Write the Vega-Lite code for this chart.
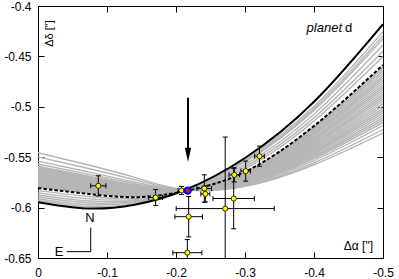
{
  "width": 345,
  "height": 252,
  "autosize": {"type": "none"},
  "padding": {"left": 38, "top": 6, "right": 16, "bottom": 21},
  "config": {
    "view": {"stroke": "#000000", "strokeWidth": 1},
    "font": "Liberation Sans",
    "axis": {"domain": false, "grid": false, "tickColor": "#000000", "tickSize": -6, "tickWidth": 1, "labelColor": "#000000", "labelFont": "Liberation Sans", "labelFontSize": 12, "labelFlush": false, "labelOverlap": false}
  },
  "datasets": {
    "gray": [
      {"c":"s0","x":0,"y":-0.5455},{"c":"s0","x":-0.07,"y":-0.5572},{"c":"s0","x":-0.14,"y":-0.5700},{"c":"s0","x":-0.212,"y":-0.5822},{"c":"s0","x":-0.3,"y":-0.5790},{"c":"s0","x":-0.4,"y":-0.5575},{"c":"s0","x":-0.5,"y":-0.5260},
      {"c":"s1","x":0,"y":-0.5497},{"c":"s1","x":-0.07,"y":-0.5607},{"c":"s1","x":-0.14,"y":-0.5724},{"c":"s1","x":-0.212,"y":-0.5823},{"c":"s1","x":-0.3,"y":-0.5783},{"c":"s1","x":-0.4,"y":-0.5556},{"c":"s1","x":-0.5,"y":-0.5226},
      {"c":"s2","x":0,"y":-0.5539},{"c":"s2","x":-0.07,"y":-0.5642},{"c":"s2","x":-0.14,"y":-0.5747},{"c":"s2","x":-0.212,"y":-0.5825},{"c":"s2","x":-0.3,"y":-0.5774},{"c":"s2","x":-0.4,"y":-0.5533},{"c":"s2","x":-0.5,"y":-0.5186},
      {"c":"s3","x":0,"y":-0.5568},{"c":"s3","x":-0.07,"y":-0.5665},{"c":"s3","x":-0.14,"y":-0.5763},{"c":"s3","x":-0.212,"y":-0.5826},{"c":"s3","x":-0.3,"y":-0.5768},{"c":"s3","x":-0.4,"y":-0.5515},{"c":"s3","x":-0.5,"y":-0.5155},
      {"c":"d0","x":0,"y":-0.5590},{"c":"d0","x":-0.07,"y":-0.5683},{"c":"d0","x":-0.14,"y":-0.5776},{"c":"d0","x":-0.212,"y":-0.5830},{"c":"d0","x":-0.3,"y":-0.5762},{"c":"d0","x":-0.4,"y":-0.5501},{"c":"d0","x":-0.5,"y":-0.5130},
      {"c":"d1","x":0,"y":-0.5599},{"c":"d1","x":-0.07,"y":-0.5691},{"c":"d1","x":-0.14,"y":-0.5781},{"c":"d1","x":-0.212,"y":-0.5830},{"c":"d1","x":-0.3,"y":-0.5757},{"c":"d1","x":-0.4,"y":-0.5488},{"c":"d1","x":-0.5,"y":-0.5107},
      {"c":"d2","x":0,"y":-0.5608},{"c":"d2","x":-0.07,"y":-0.5698},{"c":"d2","x":-0.14,"y":-0.5786},{"c":"d2","x":-0.212,"y":-0.5830},{"c":"d2","x":-0.3,"y":-0.5752},{"c":"d2","x":-0.4,"y":-0.5474},{"c":"d2","x":-0.5,"y":-0.5084},
      {"c":"d3","x":0,"y":-0.5617},{"c":"d3","x":-0.07,"y":-0.5705},{"c":"d3","x":-0.14,"y":-0.5791},{"c":"d3","x":-0.212,"y":-0.5830},{"c":"d3","x":-0.3,"y":-0.5747},{"c":"d3","x":-0.4,"y":-0.5461},{"c":"d3","x":-0.5,"y":-0.5061},
      {"c":"d4","x":0,"y":-0.5626},{"c":"d4","x":-0.07,"y":-0.5713},{"c":"d4","x":-0.14,"y":-0.5796},{"c":"d4","x":-0.212,"y":-0.5830},{"c":"d4","x":-0.3,"y":-0.5742},{"c":"d4","x":-0.4,"y":-0.5448},{"c":"d4","x":-0.5,"y":-0.5038},
      {"c":"d5","x":0,"y":-0.5635},{"c":"d5","x":-0.07,"y":-0.5720},{"c":"d5","x":-0.14,"y":-0.5800},{"c":"d5","x":-0.212,"y":-0.5830},{"c":"d5","x":-0.3,"y":-0.5737},{"c":"d5","x":-0.4,"y":-0.5435},{"c":"d5","x":-0.5,"y":-0.5015},
      {"c":"d6","x":0,"y":-0.5643},{"c":"d6","x":-0.07,"y":-0.5727},{"c":"d6","x":-0.14,"y":-0.5805},{"c":"d6","x":-0.212,"y":-0.5830},{"c":"d6","x":-0.3,"y":-0.5732},{"c":"d6","x":-0.4,"y":-0.5422},{"c":"d6","x":-0.5,"y":-0.4992},
      {"c":"d7","x":0,"y":-0.5652},{"c":"d7","x":-0.07,"y":-0.5735},{"c":"d7","x":-0.14,"y":-0.5810},{"c":"d7","x":-0.212,"y":-0.5830},{"c":"d7","x":-0.3,"y":-0.5727},{"c":"d7","x":-0.4,"y":-0.5409},{"c":"d7","x":-0.5,"y":-0.4968},
      {"c":"d8","x":0,"y":-0.5661},{"c":"d8","x":-0.07,"y":-0.5742},{"c":"d8","x":-0.14,"y":-0.5815},{"c":"d8","x":-0.212,"y":-0.5830},{"c":"d8","x":-0.3,"y":-0.5722},{"c":"d8","x":-0.4,"y":-0.5396},{"c":"d8","x":-0.5,"y":-0.4945},
      {"c":"d9","x":0,"y":-0.5670},{"c":"d9","x":-0.07,"y":-0.5749},{"c":"d9","x":-0.14,"y":-0.5820},{"c":"d9","x":-0.212,"y":-0.5830},{"c":"d9","x":-0.3,"y":-0.5717},{"c":"d9","x":-0.4,"y":-0.5382},{"c":"d9","x":-0.5,"y":-0.4922},
      {"c":"d10","x":0,"y":-0.5679},{"c":"d10","x":-0.07,"y":-0.5757},{"c":"d10","x":-0.14,"y":-0.5825},{"c":"d10","x":-0.212,"y":-0.5830},{"c":"d10","x":-0.3,"y":-0.5713},{"c":"d10","x":-0.4,"y":-0.5369},{"c":"d10","x":-0.5,"y":-0.4899},
      {"c":"d11","x":0,"y":-0.5688},{"c":"d11","x":-0.07,"y":-0.5764},{"c":"d11","x":-0.14,"y":-0.5830},{"c":"d11","x":-0.212,"y":-0.5830},{"c":"d11","x":-0.3,"y":-0.5708},{"c":"d11","x":-0.4,"y":-0.5356},{"c":"d11","x":-0.5,"y":-0.4876},
      {"c":"d12","x":0,"y":-0.5697},{"c":"d12","x":-0.07,"y":-0.5771},{"c":"d12","x":-0.14,"y":-0.5835},{"c":"d12","x":-0.212,"y":-0.5830},{"c":"d12","x":-0.3,"y":-0.5703},{"c":"d12","x":-0.4,"y":-0.5343},{"c":"d12","x":-0.5,"y":-0.4853},
      {"c":"d13","x":0,"y":-0.5706},{"c":"d13","x":-0.07,"y":-0.5779},{"c":"d13","x":-0.14,"y":-0.5840},{"c":"d13","x":-0.212,"y":-0.5830},{"c":"d13","x":-0.3,"y":-0.5698},{"c":"d13","x":-0.4,"y":-0.5330},{"c":"d13","x":-0.5,"y":-0.4830},
      {"c":"d14","x":0,"y":-0.5715},{"c":"d14","x":-0.07,"y":-0.5786},{"c":"d14","x":-0.14,"y":-0.5845},{"c":"d14","x":-0.212,"y":-0.5830},{"c":"d14","x":-0.3,"y":-0.5693},{"c":"d14","x":-0.4,"y":-0.5317},{"c":"d14","x":-0.5,"y":-0.4807},
      {"c":"d15","x":0,"y":-0.5724},{"c":"d15","x":-0.07,"y":-0.5793},{"c":"d15","x":-0.14,"y":-0.5850},{"c":"d15","x":-0.212,"y":-0.5830},{"c":"d15","x":-0.3,"y":-0.5688},{"c":"d15","x":-0.4,"y":-0.5304},{"c":"d15","x":-0.5,"y":-0.4784},
      {"c":"d16","x":0,"y":-0.5733},{"c":"d16","x":-0.07,"y":-0.5801},{"c":"d16","x":-0.14,"y":-0.5855},{"c":"d16","x":-0.212,"y":-0.5830},{"c":"d16","x":-0.3,"y":-0.5683},{"c":"d16","x":-0.4,"y":-0.5290},{"c":"d16","x":-0.5,"y":-0.4761},
      {"c":"d17","x":0,"y":-0.5742},{"c":"d17","x":-0.07,"y":-0.5808},{"c":"d17","x":-0.14,"y":-0.5860},{"c":"d17","x":-0.212,"y":-0.5830},{"c":"d17","x":-0.3,"y":-0.5678},{"c":"d17","x":-0.4,"y":-0.5277},{"c":"d17","x":-0.5,"y":-0.4738},
      {"c":"d18","x":0,"y":-0.5750},{"c":"d18","x":-0.07,"y":-0.5815},{"c":"d18","x":-0.14,"y":-0.5865},{"c":"d18","x":-0.212,"y":-0.5830},{"c":"d18","x":-0.3,"y":-0.5673},{"c":"d18","x":-0.4,"y":-0.5264},{"c":"d18","x":-0.5,"y":-0.4715},
      {"c":"d19","x":0,"y":-0.5759},{"c":"d19","x":-0.07,"y":-0.5823},{"c":"d19","x":-0.14,"y":-0.5870},{"c":"d19","x":-0.212,"y":-0.5830},{"c":"d19","x":-0.3,"y":-0.5668},{"c":"d19","x":-0.4,"y":-0.5251},{"c":"d19","x":-0.5,"y":-0.4692},
      {"c":"d20","x":0,"y":-0.5768},{"c":"d20","x":-0.07,"y":-0.5830},{"c":"d20","x":-0.14,"y":-0.5875},{"c":"d20","x":-0.212,"y":-0.5830},{"c":"d20","x":-0.3,"y":-0.5663},{"c":"d20","x":-0.4,"y":-0.5238},{"c":"d20","x":-0.5,"y":-0.4669},
      {"c":"d21","x":0,"y":-0.5777},{"c":"d21","x":-0.07,"y":-0.5837},{"c":"d21","x":-0.14,"y":-0.5880},{"c":"d21","x":-0.212,"y":-0.5830},{"c":"d21","x":-0.3,"y":-0.5658},{"c":"d21","x":-0.4,"y":-0.5225},{"c":"d21","x":-0.5,"y":-0.4646},
      {"c":"d22","x":0,"y":-0.5786},{"c":"d22","x":-0.07,"y":-0.5845},{"c":"d22","x":-0.14,"y":-0.5885},{"c":"d22","x":-0.212,"y":-0.5830},{"c":"d22","x":-0.3,"y":-0.5653},{"c":"d22","x":-0.4,"y":-0.5212},{"c":"d22","x":-0.5,"y":-0.4623},
      {"c":"d23","x":0,"y":-0.5795},{"c":"d23","x":-0.07,"y":-0.5852},{"c":"d23","x":-0.14,"y":-0.5890},{"c":"d23","x":-0.212,"y":-0.5830},{"c":"d23","x":-0.3,"y":-0.5648},{"c":"d23","x":-0.4,"y":-0.5198},{"c":"d23","x":-0.5,"y":-0.4600},
      {"c":"l1","x":0,"y":-0.5832},{"c":"l1","x":-0.07,"y":-0.5888},{"c":"l1","x":-0.14,"y":-0.5910},{"c":"l1","x":-0.212,"y":-0.5836},{"c":"l1","x":-0.3,"y":-0.5615},{"c":"l1","x":-0.4,"y":-0.5141},{"c":"l1","x":-0.5,"y":-0.4502},
      {"c":"l2","x":0,"y":-0.5854},{"c":"l2","x":-0.07,"y":-0.5911},{"c":"l2","x":-0.14,"y":-0.5921},{"c":"l2","x":-0.212,"y":-0.5834},{"c":"l2","x":-0.3,"y":-0.5596},{"c":"l2","x":-0.4,"y":-0.5110},{"c":"l2","x":-0.5,"y":-0.4450},
      {"c":"l3","x":0,"y":-0.5875},{"c":"l3","x":-0.07,"y":-0.5932},{"c":"l3","x":-0.14,"y":-0.5932},{"c":"l3","x":-0.212,"y":-0.5832},{"c":"l3","x":-0.3,"y":-0.5573},{"c":"l3","x":-0.4,"y":-0.5073},{"c":"l3","x":-0.5,"y":-0.4387},
      {"c":"l4","x":0,"y":-0.5893},{"c":"l4","x":-0.07,"y":-0.5952},{"c":"l4","x":-0.14,"y":-0.5941},{"c":"l4","x":-0.212,"y":-0.5831},{"c":"l4","x":-0.3,"y":-0.5550},{"c":"l4","x":-0.4,"y":-0.5036},{"c":"l4","x":-0.5,"y":-0.4324},
      {"c":"l5","x":0,"y":-0.5912},{"c":"l5","x":-0.07,"y":-0.5971},{"c":"l5","x":-0.14,"y":-0.5951},{"c":"l5","x":-0.212,"y":-0.5829},{"c":"l5","x":-0.3,"y":-0.5539},{"c":"l5","x":-0.4,"y":-0.5018},{"c":"l5","x":-0.5,"y":-0.4295},
      {"c":"l6","x":0,"y":-0.5930},{"c":"l6","x":-0.07,"y":-0.5990},{"c":"l6","x":-0.14,"y":-0.5960},{"c":"l6","x":-0.212,"y":-0.5828},{"c":"l6","x":-0.3,"y":-0.5525},{"c":"l6","x":-0.4,"y":-0.4995},{"c":"l6","x":-0.5,"y":-0.4255}
    ],
    "black": [
      {"x":0,"y":-0.5946},{"x":-0.07,"y":-0.6008},{"x":-0.14,"y":-0.5971},{"x":-0.212,"y":-0.5828},{"x":-0.3,"y":-0.5508},{"x":-0.4,"y":-0.4950},{"x":-0.5,"y":-0.4180}
    ],
    "dashed": [
      {"x":0,"y":-0.5807},{"x":-0.07,"y":-0.5862},{"x":-0.14,"y":-0.5897},{"x":-0.212,"y":-0.5838},{"x":-0.3,"y":-0.5645},{"x":-0.4,"y":-0.5190},{"x":-0.5,"y":-0.4585}
    ],
    "obs": [
      {"x":-0.0874,"y":-0.5784,"xlo":-0.0984,"xhi":-0.0764,"ylo":-0.5884,"yhi":-0.5684},
      {"x":-0.1705,"y":-0.5900,"xlo":-0.1805,"xhi":-0.1605,"ylo":-0.5980,"yhi":-0.5820},
      {"x":-0.2080,"y":-0.5830,"xlo":-0.2130,"xhi":-0.2030,"ylo":-0.5870,"yhi":-0.5790},
      {"x":-0.2184,"y":-0.6090,"xlo":-0.2384,"xhi":-0.1984,"ylo":-0.6290,"yhi":-0.5890},
      {"x":-0.2164,"y":-0.6447,"xlo":-0.2374,"xhi":-0.1954,"ylo":-0.6577,"yhi":-0.6317},
      {"x":-0.2410,"y":-0.5811,"xlo":-0.2516,"xhi":-0.2304,"ylo":-0.5947,"yhi":-0.5675},
      {"x":-0.2425,"y":-0.5864,"xlo":-0.2490,"xhi":-0.2360,"ylo":-0.5944,"yhi":-0.5784},
      {"x":-0.2713,"y":-0.6010,"xlo":-0.3423,"xhi":-0.2003,"ylo":-0.6720,"yhi":-0.5300},
      {"x":-0.2836,"y":-0.5910,"xlo":-0.3136,"xhi":-0.2536,"ylo":-0.6210,"yhi":-0.5610},
      {"x":-0.2845,"y":-0.5675,"xlo":-0.2922,"xhi":-0.2768,"ylo":-0.5745,"yhi":-0.5605},
      {"x":-0.3010,"y":-0.5638,"xlo":-0.3080,"xhi":-0.2940,"ylo":-0.5738,"yhi":-0.5538},
      {"x":-0.3210,"y":-0.5490,"xlo":-0.3280,"xhi":-0.3140,"ylo":-0.5590,"yhi":-0.5390}
    ]
  },
  "layer": [
    {
      "data": {"name": "gray"},
      "mark": {"type": "line", "interpolate": "natural", "color": "#b5b5b5", "strokeWidth": 1.4, "clip": true},
      "encoding": {
        "x": {"field": "x", "type": "quantitative", "scale": {"domain": [-0.5, 0], "reverse": true, "nice": false, "zero": false},
              "axis": {"orient": "bottom", "values": [0, -0.1, -0.2, -0.3, -0.4, -0.5], "labelExpr": "datum.value == 0 ? '0' : '-' + format(-datum.value, '.1~f')", "labelPadding": 15, "title": null}},
        "y": {"field": "y", "type": "quantitative", "scale": {"domain": [-0.65, -0.4], "nice": false, "zero": false},
              "axis": {"orient": "left", "values": [-0.65, -0.6, -0.55, -0.5, -0.45, -0.4], "labelExpr": "'-' + format(-datum.value, '.2~f')", "labelPadding": 13, "title": null}},
        "detail": {"field": "c", "type": "nominal"}
      }
    },
    {
      "data": {"name": "black"},
      "mark": {"type": "line", "interpolate": "natural", "color": "#000000", "strokeWidth": 2, "clip": true},
      "encoding": {
        "x": {"field": "x", "type": "quantitative", "scale": {"domain": [-0.5, 0], "reverse": true, "nice": false, "zero": false},
              "axis": {"orient": "top", "values": [0, -0.1, -0.2, -0.3, -0.4, -0.5], "labels": false, "title": null}},
        "y": {"field": "y", "type": "quantitative", "scale": {"domain": [-0.65, -0.4], "nice": false, "zero": false},
              "axis": {"orient": "right", "values": [-0.65, -0.6, -0.55, -0.5, -0.45, -0.4], "labels": false, "title": null}}
      }
    },
    {
      "data": {"name": "dashed"},
      "mark": {"type": "line", "interpolate": "natural", "color": "#000000", "strokeWidth": 2, "strokeDash": [3.5, 2], "clip": true},
      "encoding": {
        "x": {"field": "x", "type": "quantitative", "axis": null},
        "y": {"field": "y", "type": "quantitative", "axis": null}
      }
    },
    {
      "data": {"values": [{"x": -0.0764, "y": -0.6199, "x2": -0.0764, "y2": -0.6437}, {"x": -0.0416, "y": -0.6437, "x2": -0.0764, "y2": -0.6437}]},
      "mark": {"type": "rule", "color": "#000000", "strokeWidth": 1},
      "encoding": {
        "x": {"field": "x", "type": "quantitative", "axis": null},
        "y": {"field": "y", "type": "quantitative", "axis": null},
        "x2": {"field": "x2"},
        "y2": {"field": "y2"}
      }
    },
    {
      "data": {"values": [{"x": -0.2174, "y": -0.491, "y2": -0.543}]},
      "mark": {"type": "rule", "color": "#000000", "strokeWidth": 2},
      "encoding": {
        "x": {"field": "x", "type": "quantitative", "axis": null},
        "y": {"field": "y", "type": "quantitative", "axis": null},
        "y2": {"field": "y2"}
      }
    },
    {
      "data": {"values": [{"x": -0.2174, "y": -0.5546}]},
      "mark": {"type": "point", "shape": "M-0.45,-2L0.45,-2L0,0Z", "size": 196, "filled": true, "color": "#000000", "opacity": 1, "strokeWidth": 0},
      "encoding": {
        "x": {"field": "x", "type": "quantitative", "axis": null},
        "y": {"field": "y", "type": "quantitative", "axis": null}
      }
    },
    {
      "data": {"name": "obs"},
      "mark": {"type": "rule", "color": "#000000", "strokeWidth": 1, "clip": true},
      "encoding": {
        "x": {"field": "x", "type": "quantitative", "axis": null},
        "y": {"field": "ylo", "type": "quantitative", "axis": null},
        "y2": {"field": "yhi"}
      }
    },
    {
      "data": {"name": "obs"},
      "mark": {"type": "rule", "color": "#000000", "strokeWidth": 1, "clip": true},
      "encoding": {
        "x": {"field": "xlo", "type": "quantitative", "axis": null},
        "x2": {"field": "xhi"},
        "y": {"field": "y", "type": "quantitative", "axis": null}
      }
    },
    {
      "data": {"name": "obs"},
      "mark": {"type": "tick", "orient": "horizontal", "size": 5, "thickness": 1, "color": "#000000", "opacity": 1, "clip": true},
      "encoding": {
        "x": {"field": "x", "type": "quantitative", "axis": null},
        "y": {"field": "ylo", "type": "quantitative", "axis": null}
      }
    },
    {
      "data": {"name": "obs"},
      "mark": {"type": "tick", "orient": "horizontal", "size": 5, "thickness": 1, "color": "#000000", "opacity": 1, "clip": true},
      "encoding": {
        "x": {"field": "x", "type": "quantitative", "axis": null},
        "y": {"field": "yhi", "type": "quantitative", "axis": null}
      }
    },
    {
      "data": {"name": "obs"},
      "mark": {"type": "tick", "orient": "vertical", "size": 5, "thickness": 1, "color": "#000000", "opacity": 1, "clip": true},
      "encoding": {
        "x": {"field": "xlo", "type": "quantitative", "axis": null},
        "y": {"field": "y", "type": "quantitative", "axis": null}
      }
    },
    {
      "data": {"name": "obs"},
      "mark": {"type": "tick", "orient": "vertical", "size": 5, "thickness": 1, "color": "#000000", "opacity": 1, "clip": true},
      "encoding": {
        "x": {"field": "xhi", "type": "quantitative", "axis": null},
        "y": {"field": "y", "type": "quantitative", "axis": null}
      }
    },
    {
      "data": {"name": "obs"},
      "mark": {"type": "point", "shape": "circle", "size": 26, "filled": true, "fill": "#ffff00", "stroke": "#000000", "strokeWidth": 0.8, "opacity": 1},
      "encoding": {
        "x": {"field": "x", "type": "quantitative", "axis": null},
        "y": {"field": "y", "type": "quantitative", "axis": null}
      }
    },
    {
      "data": {"values": [{"x": -0.2169, "y": -0.5832}]},
      "mark": {"type": "point", "shape": "circle", "size": 40, "filled": true, "fill": "#ff0000", "stroke": "#0000ff", "strokeWidth": 2, "opacity": 1},
      "encoding": {
        "x": {"field": "x", "type": "quantitative", "axis": null},
        "y": {"field": "y", "type": "quantitative", "axis": null}
      }
    },
    {
      "data": {"values": [{"x": -0.0754, "y": -0.6105, "t": "N"}, {"x": -0.0304, "y": -0.6437, "t": "E"}]},
      "mark": {"type": "text", "font": "Liberation Sans", "fontSize": 13, "align": "center", "baseline": "middle", "color": "#000000"},
      "encoding": {
        "x": {"field": "x", "type": "quantitative", "axis": null},
        "y": {"field": "y", "type": "quantitative", "axis": null},
        "text": {"field": "t"}
      }
    },
    {
      "data": {"values": [{"x": -0.4406, "y": -0.4254, "t": "planet"}]},
      "mark": {"type": "text", "font": "Liberation Sans", "fontSize": 13, "fontStyle": "italic", "align": "right", "baseline": "alphabetic", "color": "#000000"},
      "encoding": {
        "x": {"field": "x", "type": "quantitative", "axis": null},
        "y": {"field": "y", "type": "quantitative", "axis": null},
        "text": {"field": "t"}
      }
    },
    {
      "data": {"values": [{"x": -0.4449, "y": -0.4254, "t": "d"}]},
      "mark": {"type": "text", "font": "Liberation Sans", "fontSize": 13, "align": "left", "baseline": "alphabetic", "color": "#000000"},
      "encoding": {
        "x": {"field": "x", "type": "quantitative", "axis": null},
        "y": {"field": "y", "type": "quantitative", "axis": null},
        "text": {"field": "t"}
      }
    },
    {
      "data": {"values": [{"x": -0.0174, "y": -0.4273, "t": "Δδ [\"]"}]},
      "mark": {"type": "text", "font": "Liberation Sans", "fontSize": 11, "angle": 270, "align": "center", "baseline": "middle", "color": "#000000"},
      "encoding": {
        "x": {"field": "x", "type": "quantitative", "axis": null},
        "y": {"field": "y", "type": "quantitative", "axis": null},
        "text": {"field": "t"}
      }
    },
    {
      "data": {"values": [{"x": -0.4855, "y": -0.6376, "t": "Δα [\"]"}]},
      "mark": {"type": "text", "font": "Liberation Sans", "fontSize": 12, "align": "right", "baseline": "middle", "color": "#000000"},
      "encoding": {
        "x": {"field": "x", "type": "quantitative", "axis": null},
        "y": {"field": "y", "type": "quantitative", "axis": null},
        "text": {"field": "t"}
      }
    }
  ]
}
